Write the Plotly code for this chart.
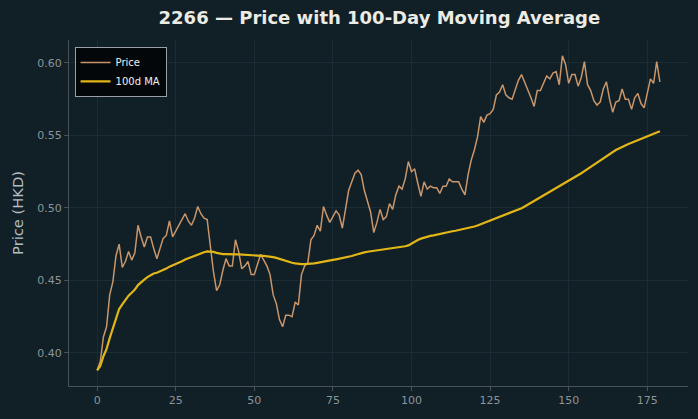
import plotly.graph_objects as go
import pandas as pd

title_text = "2266 — Price with 100-Day Moving Average"
y_label = "Price (HKD)"
ma_window = 100

price = [
    0.388, 0.394, 0.411, 0.418, 0.440, 0.449, 0.467, 0.475, 0.459, 0.463,
    0.470, 0.464, 0.469, 0.488, 0.480, 0.473, 0.480, 0.480, 0.472, 0.465,
    0.472, 0.479, 0.481, 0.491, 0.480, 0.484, 0.487, 0.492, 0.496, 0.491,
    0.488, 0.493, 0.501, 0.496, 0.493, 0.492, 0.472, 0.456, 0.443, 0.447,
    0.457, 0.465, 0.460, 0.460, 0.478, 0.470, 0.458, 0.460, 0.463, 0.454,
    0.454, 0.462, 0.468, 0.464, 0.460, 0.454, 0.440, 0.434, 0.423, 0.418,
    0.426, 0.426, 0.425, 0.435, 0.433, 0.454, 0.460, 0.462, 0.478, 0.481,
    0.488, 0.484, 0.501, 0.495, 0.490, 0.494, 0.498, 0.495, 0.486, 0.499,
    0.512, 0.518, 0.524, 0.526, 0.523, 0.512, 0.504, 0.497, 0.483, 0.490,
    0.499, 0.492, 0.494, 0.503, 0.499, 0.509, 0.515, 0.513, 0.520, 0.532,
    0.525, 0.527, 0.517, 0.508, 0.518, 0.513, 0.515, 0.514, 0.514, 0.510,
    0.515, 0.515, 0.520, 0.518, 0.518, 0.518, 0.513, 0.509, 0.523, 0.533,
    0.540, 0.549, 0.563, 0.559, 0.564, 0.565, 0.568, 0.578, 0.580, 0.585,
    0.578, 0.576, 0.575, 0.582, 0.588, 0.592, 0.587, 0.582, 0.576, 0.570,
    0.581, 0.581, 0.586, 0.591, 0.589, 0.593, 0.594, 0.585, 0.605, 0.599,
    0.586, 0.592, 0.592, 0.584, 0.590, 0.601, 0.585, 0.581, 0.574, 0.571,
    0.573, 0.582, 0.587, 0.575, 0.566, 0.573, 0.574, 0.582, 0.575, 0.575,
    0.568, 0.576, 0.579, 0.572, 0.569, 0.578, 0.589, 0.586, 0.601, 0.587,
]
day_index = list(range(len(price)))
ma = pd.Series(price).rolling(ma_window, min_periods=1).mean().tolist()

x_ticks = [0, 25, 50, 75, 100, 125, 150, 175]
y_ticks = [0.40, 0.45, 0.50, 0.55, 0.60]

BG = "#111f27"
GRID = "#1c2c34"
AXIS = "#4a5257"
TICK_TXT = "#8c9498"

fig = go.Figure()
fig.add_trace(go.Scatter(x=day_index, y=price, mode="lines", name="Price",
                         line=dict(color="#c8966a", width=1.5)))
fig.add_trace(go.Scatter(x=day_index, y=ma, mode="lines", name="100d MA",
                         line=dict(color="#e2b617", width=2.2)))

xmin, xmax = min(day_index), max(day_index)
xpad = (xmax - xmin) * 0.05
allv = price + ma
ymin, ymax = min(allv), max(allv)
ypad = (ymax - ymin) * 0.05

fig.update_layout(
    width=698, height=419,
    paper_bgcolor=BG, plot_bgcolor=BG,
    margin=dict(l=69, r=10, t=40, b=33),
    font=dict(family="DejaVu Sans", color=TICK_TXT, size=11),
    title=dict(text=f"<b>{title_text}</b>", x=0.5435, xanchor="center",
               y=1 - 18 / 419, yanchor="middle", yref="container",
               font=dict(size=18, color="#ecebe4", family="DejaVu Sans")),
    showlegend=True,
    legend=dict(x=0.009, y=0.98, xanchor="left", yanchor="top",
                bgcolor="rgba(3,5,6,0.92)", bordercolor="#9aa0a3", borderwidth=1,
                font=dict(size=10, color="#f0f0f0"),
                itemwidth=30, tracegroupgap=0),
    xaxis=dict(range=[xmin - xpad, xmax + xpad], tickvals=x_ticks,
               showgrid=True, gridcolor=GRID, gridwidth=1, zeroline=False,
               showline=True, linecolor=AXIS, linewidth=1, mirror=False,
               ticks="outside", ticklen=4, tickcolor=AXIS,
               tickfont=dict(size=11, color=TICK_TXT)),
    yaxis=dict(range=[ymin - ypad, ymax + ypad], tickvals=y_ticks,
               tickformat=".2f",
               showgrid=True, gridcolor=GRID, gridwidth=1, zeroline=False,
               showline=True, linecolor=AXIS, linewidth=1, mirror=False,
               ticks="outside", ticklen=4, tickcolor=AXIS,
               tickfont=dict(size=11, color=TICK_TXT),
               title=dict(text=y_label, standoff=10,
                          font=dict(size=14.7, color="#b4bcc0"))),
)

fig.write_html("out.html")
